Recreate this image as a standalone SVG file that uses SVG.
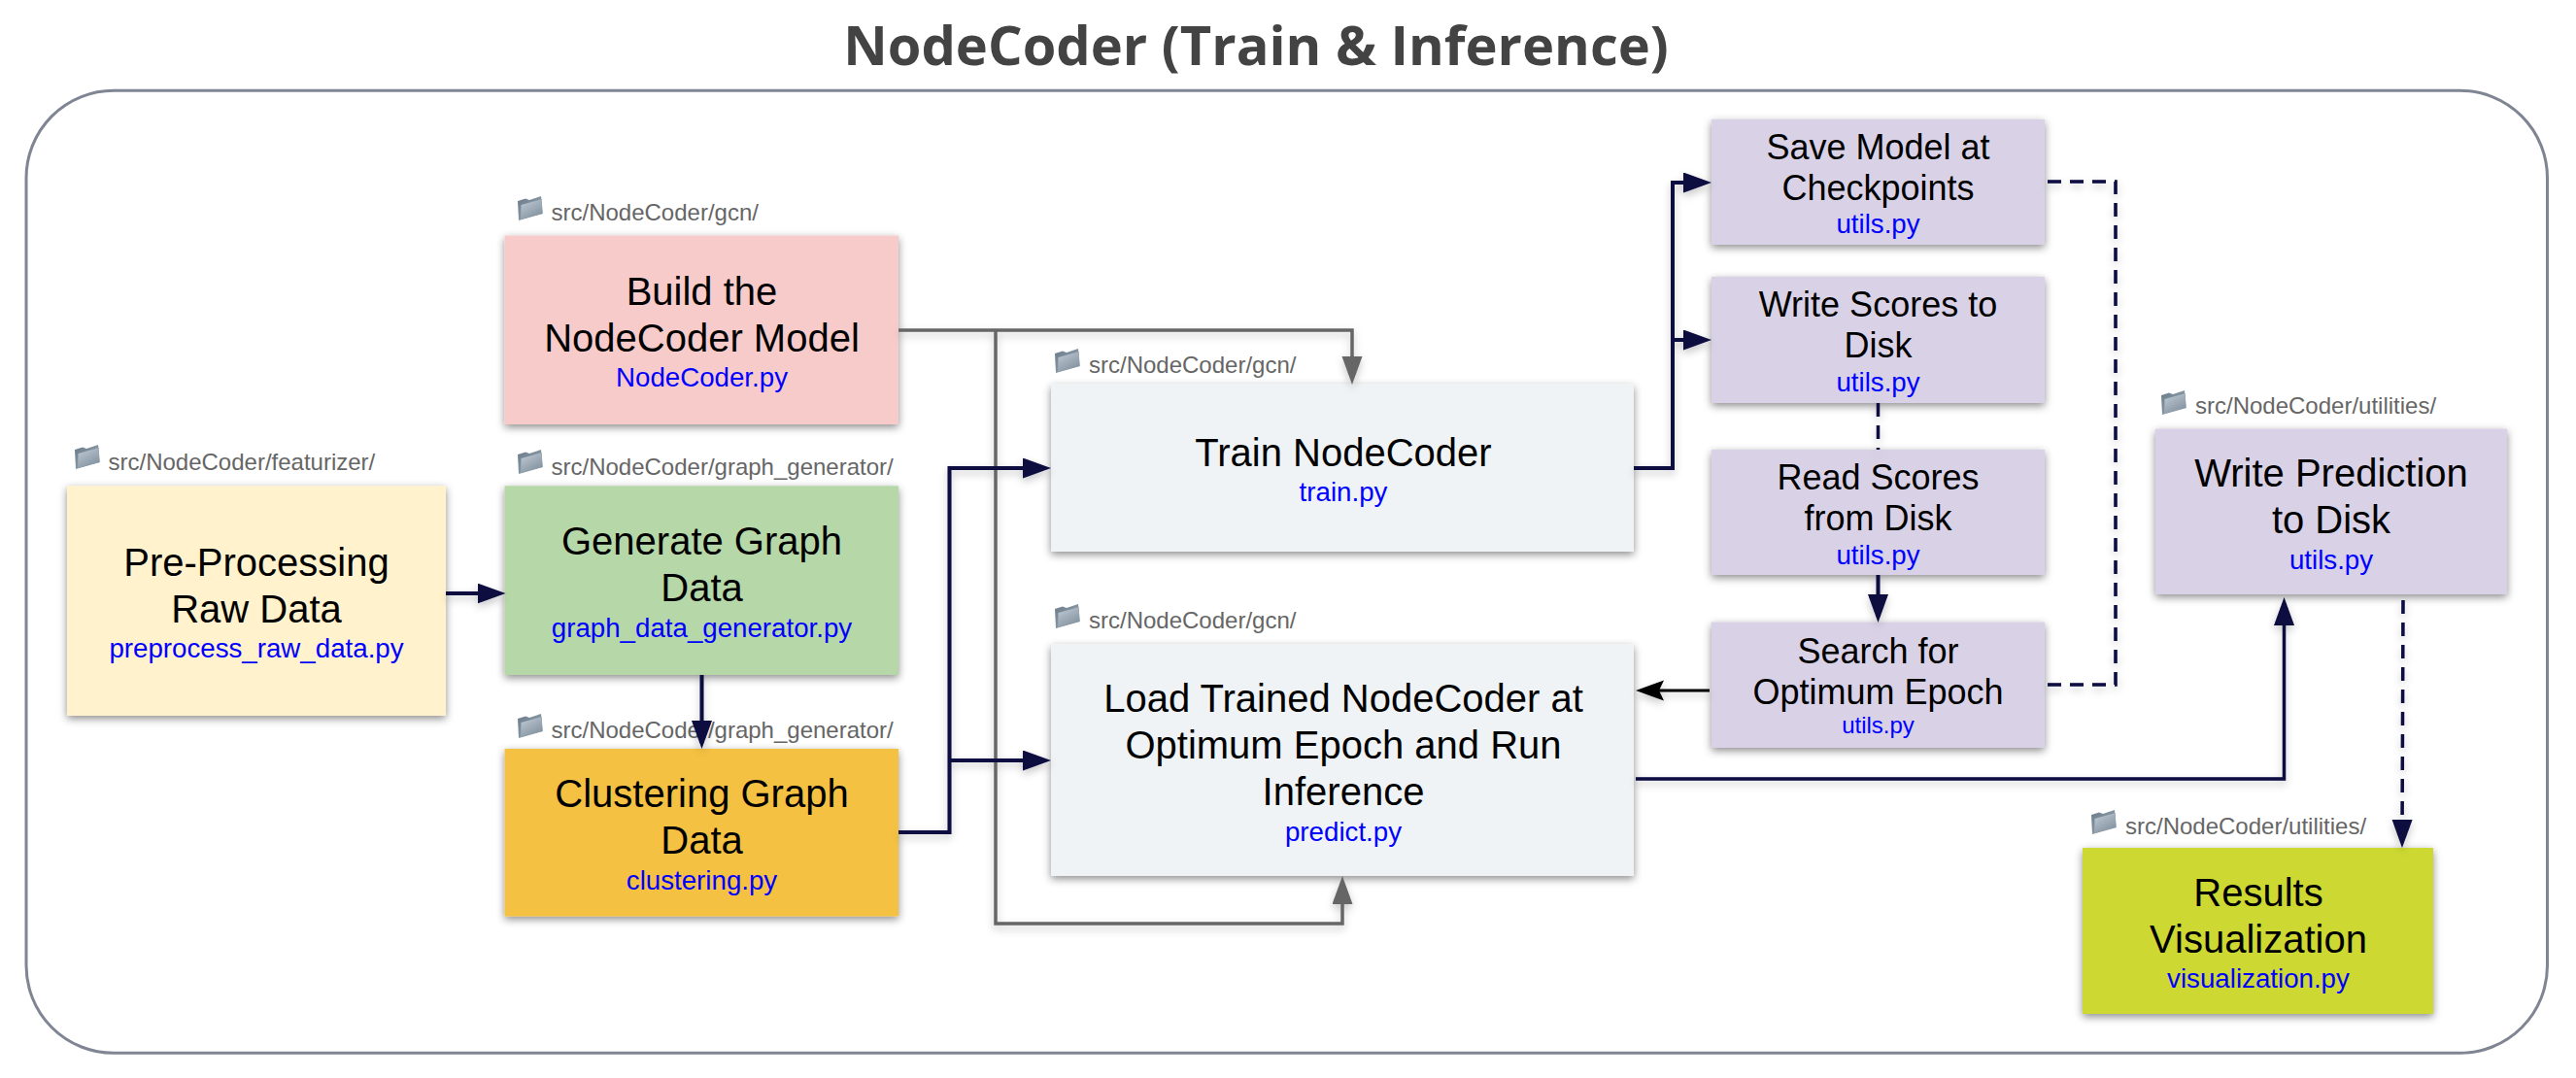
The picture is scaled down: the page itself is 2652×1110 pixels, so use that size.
<svg xmlns="http://www.w3.org/2000/svg" xmlns:xlink="http://www.w3.org/1999/xlink" width="2652" height="1110" viewBox="0 0 2652 1110">
<style>
text{font-family:"Liberation Sans",Arial,sans-serif;text-anchor:middle}
.title{font-family:"Open Sans","Noto Sans",sans-serif;font-weight:700;font-size:56px;fill:#434343}
.t40{font-size:40px;fill:#000}
.t36{font-size:36px;fill:#000}
.f{font-size:27.7px;fill:#0000ff}
.fs{font-size:24px;fill:#0000ff}
.p{font-size:24px;fill:#666;text-anchor:start}
.box{filter:url(#sh)}
.c{fill:none;stroke-linejoin:miter}
.navy{stroke:#08083f;stroke-width:4}
.navyt{stroke:#08083f;stroke-width:3.5}
.grey{stroke:#666;stroke-width:3.5}
.blk{stroke:#000;stroke-width:3}
.dash{stroke:#08083f;stroke-width:3.5;stroke-dasharray:14 9}
</style>
<defs>
<filter id="sh" x="-10%" y="-10%" width="120%" height="125%"><feDropShadow dx="0" dy="3" stdDeviation="4" flood-color="#000" flood-opacity="0.45"/></filter>
<filter id="cs" filterUnits="userSpaceOnUse" x="0" y="0" width="2652" height="1110"><feDropShadow dx="0" dy="4" stdDeviation="4" flood-color="#000" flood-opacity="0.22"/></filter>
<linearGradient id="fg" x1="0" y1="0" x2="0.6" y2="1"><stop offset="0" stop-color="#c3ced9"/><stop offset="1" stop-color="#8493a0"/></linearGradient>
<linearGradient id="fg2" x1="0" y1="0" x2="1" y2="1"><stop offset="0" stop-color="#6a7a88"/><stop offset="1" stop-color="#9fadb9"/></linearGradient>
<symbol id="folder" viewBox="0 0 26 25" width="26" height="25" overflow="visible">
<path d="M0 5 L8 2.500 L12 4 L24 0 L26 18 L1 25Z" fill="url(#fg2)"/>
<path d="M3.500 9 L25 3 L25 18 L3 24Z" fill="url(#fg)"/>
</symbol>
<marker id="aN" markerUnits="userSpaceOnUse" markerWidth="30" markerHeight="22" refX="23" refY="10.500" orient="auto"><path d="M0 0L29 10.500L0 21Z" fill="#08083f"/></marker>
<marker id="aG" markerUnits="userSpaceOnUse" markerWidth="30" markerHeight="22" refX="23" refY="10.500" orient="auto"><path d="M0 0L29 10.500L0 21Z" fill="#666"/></marker>
<marker id="aB" markerUnits="userSpaceOnUse" markerWidth="30" markerHeight="22" refX="23" refY="10.500" orient="auto"><path d="M0 0L29 10.500L0 21L5 10.500Z" fill="#000"/></marker>
</defs>
<rect width="2652" height="1110" fill="#fff"/>
<text class="title" x="1293" y="67">NodeCoder (Train &amp; Inference)</text>
<rect id="frame" x="27" y="93.300" width="2595.500" height="991" rx="90" ry="90" fill="#fff" stroke="#7f8592" stroke-width="3"/>

<g id="preprocess">
<rect class="box" x="69" y="500.300" width="390" height="236.700" fill="#fff2cc"/>
<use xlink:href="#folder" href="#folder" x="77" y="458"/>
<text class="p" x="111.500" y="484">src/NodeCoder/featurizer/</text>
<text class="t40" x="264" y="593">Pre-Processing</text><text class="t40" x="264" y="641">Raw Data</text>
<text class="f" x="264" y="677">preprocess_raw_data.py</text>
</g>
<g id="build">
<rect class="box" x="519.500" y="242.500" width="405.500" height="194.500" fill="#f8cbcb"/>
<use xlink:href="#folder" href="#folder" x="533" y="202"/>
<text class="p" x="567.500" y="227">src/NodeCoder/gcn/</text>
<text class="t40" x="722.500" y="314">Build the</text><text class="t40" x="722.500" y="362">NodeCoder Model</text>
<text class="f" x="722.500" y="398">NodeCoder.py</text>
</g>
<g id="generate">
<rect class="box" x="519.500" y="500.300" width="405.500" height="194.700" fill="#b6d7a8"/>
<use xlink:href="#folder" href="#folder" x="533" y="463"/>
<text class="p" x="567.500" y="489">src/NodeCoder/graph_generator/</text>
<text class="t40" x="722.500" y="571">Generate Graph</text><text class="t40" x="722.500" y="619">Data</text>
<text class="f" x="722.500" y="656">graph_data_generator.py</text>
</g>
<g id="clustering">
<rect class="box" x="519.500" y="771" width="405.500" height="172.500" fill="#f5c143"/>
<use xlink:href="#folder" href="#folder" x="533" y="735"/>
<text class="p" x="567.500" y="760">src/NodeCoder/graph_generator/</text>
<text class="t40" x="722.500" y="831">Clustering Graph</text><text class="t40" x="722.500" y="879">Data</text>
<text class="f" x="722.500" y="916">clustering.py</text>
</g>
<g id="train">
<rect class="box" x="1082" y="395.700" width="600" height="172.300" fill="#eff3f6"/>
<use xlink:href="#folder" href="#folder" x="1086" y="359"/>
<text class="p" x="1121" y="384">src/NodeCoder/gcn/</text>
<text class="t40" x="1383" y="480">Train NodeCoder</text>
<text class="f" x="1383" y="516">train.py</text>
</g>
<g id="load">
<rect class="box" x="1082" y="663.500" width="600" height="238.500" fill="#eff3f6"/>
<use xlink:href="#folder" href="#folder" x="1086" y="622"/>
<text class="p" x="1121" y="647">src/NodeCoder/gcn/</text>
<text class="t40" x="1383" y="733">Load Trained NodeCoder at</text><text class="t40" x="1383" y="781">Optimum Epoch and Run</text><text class="t40" x="1383" y="829">Inference</text>
<text class="f" x="1383" y="866">predict.py</text>
</g>
<g id="save">
<rect class="box" x="1762" y="123" width="343" height="129" fill="#d9d2e7"/>
<text class="t36" x="1933.500" y="164">Save Model at</text><text class="t36" x="1933.500" y="206">Checkpoints</text>
<text class="f" x="1933.500" y="240">utils.py</text>
</g>
<g id="write">
<rect class="box" x="1762" y="285" width="343" height="130" fill="#d9d2e7"/>
<text class="t36" x="1933.500" y="326">Write Scores to</text><text class="t36" x="1933.500" y="368">Disk</text>
<text class="f" x="1933.500" y="403">utils.py</text>
</g>
<g id="read">
<rect class="box" x="1762" y="463" width="343" height="129" fill="#d9d2e7"/>
<text class="t36" x="1933.500" y="504">Read Scores</text><text class="t36" x="1933.500" y="546">from Disk</text>
<text class="f" x="1933.500" y="580.500">utils.py</text>
</g>
<g id="search">
<rect class="box" x="1762" y="640.500" width="343" height="129.500" fill="#d9d2e7"/>
<text class="t36" x="1933.500" y="683">Search for</text><text class="t36" x="1933.500" y="725">Optimum Epoch</text>
<text class="fs" x="1933.500" y="755">utils.py</text>
</g>
<g id="writepred">
<rect class="box" x="2219" y="441.500" width="362" height="170.500" fill="#d9d2e7"/>
<use xlink:href="#folder" href="#folder" x="2225" y="402"/>
<text class="p" x="2260" y="426">src/NodeCoder/utilities/</text>
<text class="t40" x="2400" y="501">Write Prediction</text><text class="t40" x="2400" y="549">to Disk</text>
<text class="f" x="2400" y="586">utils.py</text>
</g>
<g id="results">
<rect class="box" x="2144" y="873" width="361" height="171" fill="#cdd933"/>
<use xlink:href="#folder" href="#folder" x="2153" y="834"/>
<text class="p" x="2188" y="859">src/NodeCoder/utilities/</text>
<text class="t40" x="2325" y="933">Results</text><text class="t40" x="2325" y="981">Visualization</text>
<text class="f" x="2325" y="1017">visualization.py</text>
</g>

<g id="connectors" filter="url(#cs)">
<path class="c grey" d="M925 340H1392V390" marker-end="url(#aG)"/>
<path class="c grey" d="M1025 340V951H1382V908" marker-end="url(#aG)"/>
<path class="c navy" d="M459 611H514.500" marker-end="url(#aN)"/>
<path class="c navy" d="M722.500 695V765" marker-end="url(#aN)"/>
<path class="c navy" d="M925 857H977.500V482H1076" marker-end="url(#aN)"/>
<path class="c navy" d="M977.500 783H1076" marker-end="url(#aN)"/>
<path class="c navy" d="M1682 482H1722V188H1756" marker-end="url(#aN)"/>
<path class="c navy" d="M1722 350H1756" marker-end="url(#aN)"/>
<path class="c navy" d="M1933.500 592V635" marker-end="url(#aN)"/>
<path class="c blk" d="M1760 711H1690" marker-end="url(#aB)"/>
<path class="c navyt" d="M1684 802H2351.500V621" marker-end="url(#aN)"/>
<path class="c dash" d="M2108 187H2178V705H2105"/>
<path class="c dash" d="M1933.500 415V463"/>
<path class="c dash" d="M2474 618L2473 867" marker-end="url(#aN)"/>
</g>
</svg>
